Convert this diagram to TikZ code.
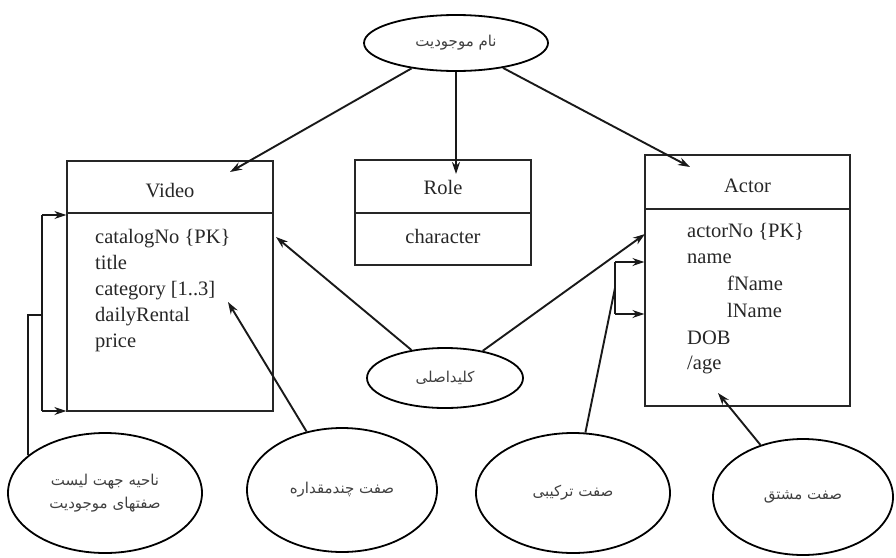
\documentclass[tikz,border=0pt]{standalone}
\usepackage{fontspec}
\setmainfont{Liberation Serif}
\newfontfamily\arabicfont[Script=Arabic]{DejaVu Sans}
\TeXXeTstate=1
\usetikzlibrary{arrows.meta,shapes.geometric}
\begin{document}
\begin{tikzpicture}[x=1pt,y=-1pt,
  box/.style={draw=black!85, line width=1.3pt, rectangle, inner sep=0pt},
  oval/.style={draw=black, line width=1.8pt, ellipse, inner sep=0pt, align=center,
    font=\arabicfont\fontsize{15}{23}\selectfont, text=black!75},
  conn/.style={line width=1.9pt, draw=black!90},
  arr/.style={conn, -{Stealth[length=12pt,width=8pt]}},
  attr/.style={anchor=base west, inner sep=0pt, font=\fontsize{20.5}{24}\selectfont, text=black!85},
  ttl/.style={anchor=base, inner sep=0pt, font=\fontsize{20.5}{24}\selectfont, text=black!85},
  divider/.style={draw=black!85, line width=1.3pt}]
\useasboundingbox (0,0) rectangle (896,557);

% boxes
\node[box, minimum width=206pt, minimum height=250pt] (video) at (170,286) {};
\node[box, minimum width=176pt, minimum height=105pt] (role) at (443,212.5) {};
\node[box, minimum width=205pt, minimum height=251pt] (actor) at (747.5,280.5) {};
\draw[divider] (video.west |- 0,213) -- (video.east |- 0,213);
\draw[divider] (role.west |- 0,213) -- (role.east |- 0,213);
\draw[divider] (actor.west |- 0,209) -- (actor.east |- 0,209);

% titles
\node[ttl] (videoT) at (170,197) {Video};
\node[ttl] (roleT) at (443,194) {Role};
\node[ttl] (actorT) at (747.5,192) {Actor};
\node[ttl] (roleA) at (443,243) {character};

% video attributes
\node[attr] (v1) at (95,243) {catalogNo \{PK\}};
\node[attr] (v2) at (95,269) {title};
\node[attr] (v3) at (95,295) {category [1..3]};
\node[attr] (v4) at (95,321) {dailyRental};
\node[attr] (v5) at (95,347) {price};

% actor attributes
\node[attr] (a1) at (687,237) {actorNo \{PK\}};
\node[attr] (a2) at (687,263) {name};
\node[attr] (a3) at (727,290) {fName};
\node[attr] (a4) at (727,317) {lName};
\node[attr] (a5) at (687,344) {DOB};
\node[attr] (a6) at (687,369) {/age};

% ellipses
\node[oval, minimum width=184pt, minimum height=56pt] (ename) at (456,43) {\beginR نام موجودیت\endR};
\node[oval, minimum width=156pt, minimum height=60pt] (pk) at (445,378) {\beginR کلیداصلی\endR};
\node[oval, minimum width=194pt, minimum height=120pt] (e1) at (105,493) {\beginR ناحیه جهت لیست\endR\\\beginR صفتهای موجودیت\endR};
\node[oval, minimum width=190pt, minimum height=124pt] (e2) at (342,490) {\beginR صفت چندمقداره\endR};
\node[oval, minimum width=194pt, minimum height=120pt] (e3) at (573,493) {\beginR صفت ترکیبی\endR};
\node[oval, minimum width=180pt, minimum height=116pt] (e4) at (803,497) {\beginR صفت مشتق\endR};

% arrow targets
\coordinate (vtip) at (230,172);
\coordinate (rtip) at (456,174);
\coordinate (atip) at (690,167);
\coordinate (vpk) at (276,237);
\coordinate (apk) at (645,234);
\coordinate (vcat) at (228,302);
\coordinate (aage) at (718,393);
\coordinate (abr) at (615,288);
\coordinate (abt) at (615,262);
\coordinate (abb) at (615,314);
\coordinate (lbt) at (42,215);
\coordinate (lbb) at (42,411);
\coordinate (lbm) at (42,315);

% connectors
\draw[arr] (ename) -- (vtip);
\draw[arr] (ename) -- (rtip);
\draw[arr] (ename) -- (atip);
\draw[arr] (pk) -- (vpk);
\draw[arr] (pk) -- (apk);
\draw[arr] (e2) -- (vcat);
\draw[arr] (e4) -- (aage);
\draw[conn] (e3) -- (abr);
\draw[conn] (abt) -- (abb);
\draw[arr] (abt) -- (abt -| actor.west);
\draw[arr] (abb) -- (abb -| actor.west);
\draw[conn] (e1.154.6) |- (lbm);
\draw[conn] (lbt) -- (lbb);
\draw[arr] (lbt) -- (lbt -| video.west);
\draw[arr] (lbb) -- (lbb -| video.west);
\end{tikzpicture}
\end{document}
